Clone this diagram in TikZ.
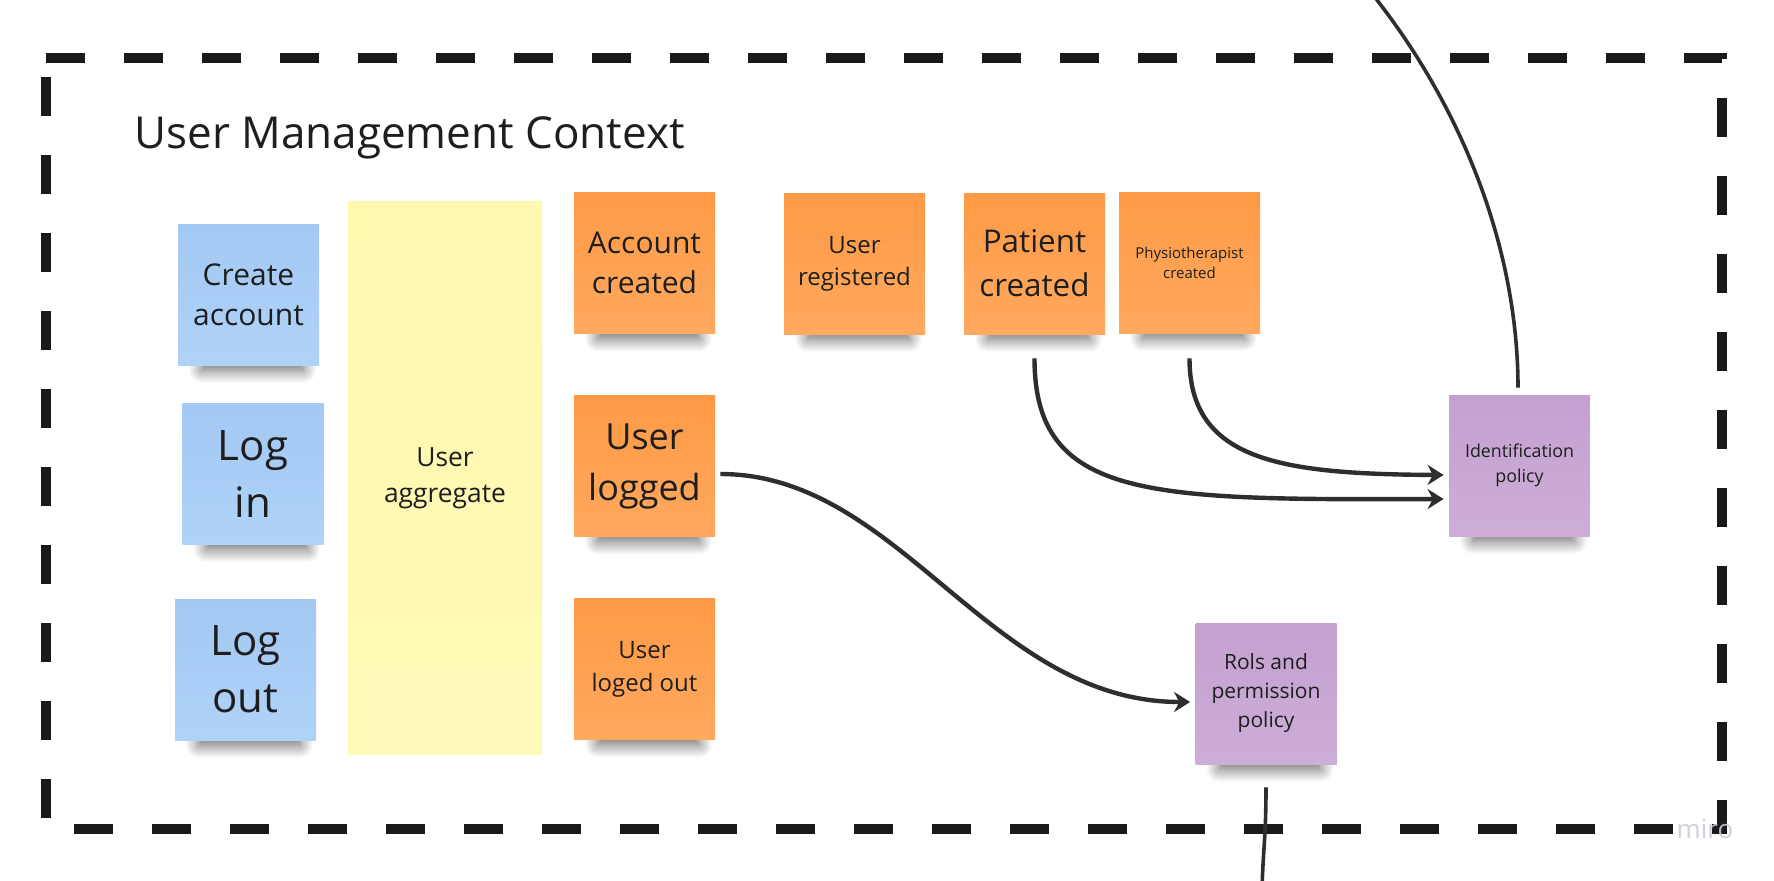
\documentclass[tikz,border=0pt]{standalone}
\usepackage{fontspec}
\setmainfont{Open Sans}
\usetikzlibrary{arrows.meta,calc,shadows,shadows.blur,backgrounds}
\definecolor{blueT}{HTML}{A3C8F2}
\definecolor{blueB}{HTML}{AFD3F8}
\definecolor{orangeT}{HTML}{FE9A45}
\definecolor{orangeB}{HTML}{FFA95F}
\definecolor{yellowT}{HTML}{FFF8AF}
\definecolor{yellowB}{HTML}{FFFAB8}
\definecolor{purpleT}{HTML}{C4A0D0}
\definecolor{purpleB}{HTML}{CDAED7}
\definecolor{txt}{HTML}{1E1E1E}
\definecolor{linec}{HTML}{2E2E2E}
\definecolor{framec}{HTML}{1A1A1A}
\definecolor{mirogray}{HTML}{C9C9D6}
\newcommand{\nshadow}[1]{\path[nshadow] ($(#1.south west)+(24,-30)$) rectangle ($(#1.south east)+(-16,5)$);}
\begin{document}
\begin{tikzpicture}[x=0.5pt,y=-0.5pt,
  note/.style={rectangle, inner sep=0pt, minimum width=70.5pt, minimum height=70.5pt,
    align=center, text=txt},
  bluenote/.style={note, top color=blueT, bottom color=blueB},
  orangenote/.style={note, top color=orangeT, bottom color=orangeB},
  purplenote/.style={note, top color=purpleT, bottom color=purpleB},
  aggnote/.style={rectangle, inner sep=0pt, minimum width=97pt, minimum height=276.5pt,
    align=center, text=txt, top color=yellowT, bottom color=yellowB},
  nshadow/.style={blur shadow={shadow xshift=0pt, shadow yshift=0pt,
      shadow blur radius=6.5pt, shadow blur steps=20, shadow opacity=60}},
  frame/.style={line width=5pt, draw=framec, dash pattern=on 19.5pt off 19.5pt},
  conn/.style={line width=2.2pt, draw=linec, -{Stealth[length=8pt, width=10pt, inset=2.6pt]}},
  plainline/.style={line width=1.8pt, draw=linec},
]
\useasboundingbox (0,0) rectangle (1774,880);
\clip (0,0) rectangle (1774,880);

% frame
\draw[frame] (46,58) -- (1722,58) -- (1722,829) -- (46,829) -- cycle;

% title
\node[anchor=base west, inner sep=0pt, text=txt, font=\fontsize{22}{26}\selectfont] (title) at (134,148) {User Management Context};

% notes
\node[bluenote, font=\fontsize{15}{20}\selectfont] (ca) at (248.5,294.5) {Create\\account};
\node[bluenote, font=\fontsize{21}{28.5}\selectfont] (li) at (253,473.5) {Log\\in};
\node[bluenote, font=\fontsize{21}{28.5}\selectfont] (lo) at (245.5,669.5) {Log\\out};
\node[aggnote, font=\fontsize{13.2}{18}\selectfont] (ua) at (445,478) {User\\aggregate};
\node[orangenote, font=\fontsize{15}{20}\selectfont] (ac) at (644.5,263) {Account\\created};
\node[orangenote, font=\fontsize{18}{25.5}\selectfont] (ul) at (644.5,466) {User\\logged};
\node[orangenote, font=\fontsize{12}{16.5}\selectfont] (uo) at (644.5,669) {User\\loged out};
\node[orangenote, font=\fontsize{12}{16}\selectfont] (ur) at (854.5,263.5) {User\\registered};
\node[orangenote, font=\fontsize{15.7}{22}\selectfont] (pc) at (1034.5,263.5) {Patient\\created};
\node[orangenote, font=\fontsize{7.5}{10}\selectfont] (ph) at (1189.5,262.5) {Physiotherapist\\created};
\node[purplenote, font=\fontsize{8.9}{12.5}\selectfont] (ip) at (1519.5,465.5) {Identification\\policy};
\node[purplenote, font=\fontsize{10.5}{14.5}\selectfont] (rp) at (1266,693.5) {Rols and\\permission\\policy};

% shadows behind the notes
\begin{scope}[on background layer]
\nshadow{ca}\nshadow{li}\nshadow{lo}
\nshadow{ac}\nshadow{ul}\nshadow{uo}
\nshadow{ur}\nshadow{pc}\nshadow{ph}
\nshadow{ip}\nshadow{rp}
\end{scope}

% free ends
\coordinate (topend) at (1377,0);
\coordinate (topbeyond) at (1369,-12);
\coordinate (botend) at (1262,890);

% connectors
\draw[conn] ($(ul.east)+(5,8)$) .. controls +(180,0) and +(-201,0) .. ($(rp.west)+(-5,8.5)$);
\draw[conn] ($(pc.south)+(0,24)$) .. controls +(0,142) and +(-294,1) .. ($(ip.west)+(-5,33.5)$);
\draw[conn] ($(ph.south)+(0,25)$) .. controls +(0,102) and +(-164,-1) .. ($(ip.west)+(-5,9.5)$);
\draw[plainline] ($(ip.north)+(-1.5,-7)$) .. controls +(0,-128) and +(93,120) .. (topend) -- (topbeyond);
\draw[plainline] ($(rp.south)+(0,23)$) .. controls +(0,50) and +(1,-40) .. (botend);

% watermark
\node[anchor=base, inner sep=0pt, text=mirogray, opacity=0.9, font=\fontsize{13}{13}\selectfont] (miro) at (1705,838) {miro};
\end{tikzpicture}
\end{document}
